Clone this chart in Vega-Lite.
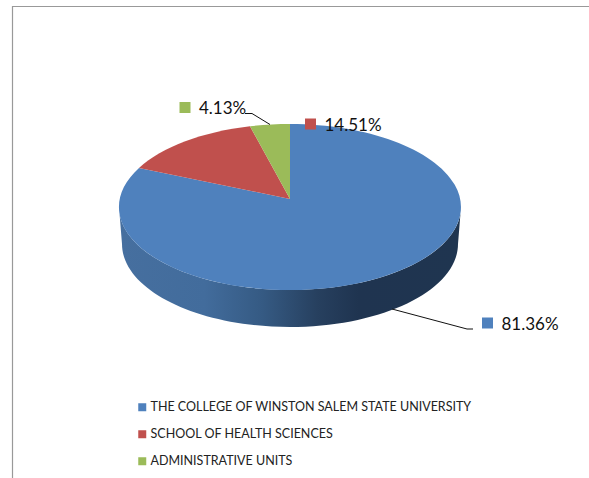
{"$schema":"https://vega.github.io/schema/vega-lite/v6.json","width":589,"height":478,"autosize":{"type":"none"},"padding":0,"background":"white","config":{"view":{"stroke":null}},"data":{"values":[{"unit":"THE COLLEGE OF WINSTON SALEM STATE UNIVERSITY","share":0.8136},{"unit":"SCHOOL OF HEALTH SCIENCES","share":0.1451},{"unit":"ADMINISTRATIVE UNITS","share":0.0413}]},"resolve":{"scale":{"x":"independent","y":"independent","shape":"independent"}},"layer":[{"encoding":{"x":{"field":"share","type":"quantitative","axis":null,"scale":{"domain":[0.0413,0.8136],"range":[290,290],"zero":false,"nice":false}},"y":{"field":"share","type":"quantitative","axis":null,"scale":{"domain":[0.0413,0.8136],"range":[207,207],"zero":false,"nice":false}},"size":{"value":4}},"layer":[{"transform":[{"filter":"datum.share > 0.5"}],"mark":{"type":"point","filled":false,"fill":null,"stroke":"#999999","strokeWidth":1.2,"opacity":1,"shape":"M-277.5,271L-277.5,-200.5L299,-200.5"}},{"transform":[{"filter":"datum.share > 0.5"}],"mark":{"type":"point","filled":true,"opacity":1,"strokeWidth":0,"shape":"M-171,0A171,83 0 0,0 171,0L168,37A168,83 0 0,1 -168,37Z","fill":{"x1":0,"y1":0,"x2":1,"y2":0,"gradient":"linear","stops":[{"offset":0,"color":"#466F9F"},{"offset":0.25,"color":"#426C9C"},{"offset":0.42,"color":"#355A83"},{"offset":0.58,"color":"#27405F"},{"offset":0.7,"color":"#1F3450"},{"offset":1,"color":"#1F3550"}]}}},{"mark":{"type":"point","filled":true,"opacity":1,"strokeWidth":0},"encoding":{"color":{"field":"unit","type":"nominal","sort":null,"scale":{"domain":["THE COLLEGE OF WINSTON SALEM STATE UNIVERSITY","SCHOOL OF HEALTH SCIENCES","ADMINISTRATIVE UNITS"],"range":["#4F81BD","#C0504D","#9BBB59"]},"legend":{"title":null,"orient":"none","legendX":136,"legendY":401,"padding":0,"symbolType":"square","symbolSize":64,"symbolStrokeWidth":0,"labelFont":"Lato","labelFontSize":12.5,"labelColor":"#222222","labelOffset":2,"rowPadding":14,"labelLimit":400,"encode":{"symbols":{"update":{"shape":{"value":"square"},"size":{"value":70}}}}}},"shape":{"field":"unit","type":"nominal","legend":null,"scale":{"domain":["THE COLLEGE OF WINSTON SALEM STATE UNIVERSITY","SCHOOL OF HEALTH SCIENCES","ADMINISTRATIVE UNITS"],"range":["M0,-8L0,-83A171,83 0 1,1 -151,-39Z","M0,-8L-151,-39A171,83 0 0,1 -40,-80.7Z","M0,-8L-40,-80.7A171,83 0 0,1 0,-83Z"]}}}}]},{"encoding":{"x":{"field":"share","type":"quantitative","axis":null,"scale":{"domain":[0.0413,0.1451,0.8136],"range":[185,310.5,487.5],"zero":false,"nice":false}},"y":{"field":"share","type":"quantitative","axis":null,"scale":{"domain":[0.0413,0.1451,0.8136],"range":[107.5,124,323],"zero":false,"nice":false}}},"layer":[{"mark":{"type":"point","filled":false,"fill":null,"stroke":"#111111","strokeWidth":1,"opacity":1,"size":4},"encoding":{"shape":{"field":"unit","type":"nominal","legend":null,"scale":{"domain":["THE COLLEGE OF WINSTON SALEM STATE UNIVERSITY","SCHOOL OF HEALTH SCIENCES","ADMINISTRATIVE UNITS"],"range":["M-14.5,6L-20.5,6L-95.5,-14","M0,0L0,0","M60,6L67,6L85,17"]}}}},{"mark":{"type":"square","filled":true,"opacity":1,"size":121,"strokeWidth":0},"encoding":{"color":{"field":"unit","type":"nominal","sort":null}}},{"mark":{"type":"text","align":"left","baseline":"middle","dx":14,"dy":1.5,"font":"Lato","fontSize":17,"fill":"#111111"},"encoding":{"text":{"field":"share","type":"quantitative","format":".2%"}}}]}]}
